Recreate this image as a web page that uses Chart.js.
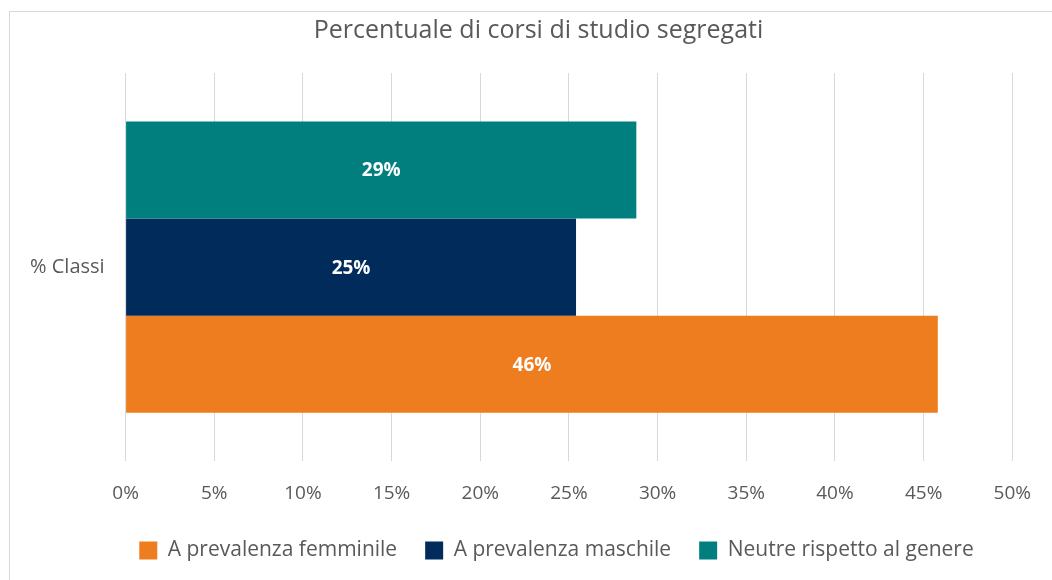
<!DOCTYPE html>
<html>
<head>
<meta charset="utf-8">
<script src="https://cdn.jsdelivr.net/npm/chart.js@4.4.1/dist/chart.umd.min.js"></script>
<style>
    html, body { margin: 0; padding: 0; background: #fff; }
    #wrap { position: relative; width: 1052px; height: 580px; overflow: hidden; }
    #frame { position: absolute; left: 9px; top: 11px; width: 1060px; height: 600px; border: 1px solid #d9d9d9; box-sizing: border-box; }
    canvas { position: absolute; left: 0; top: 0; }
</style>
</head>
<body>
<div id="wrap">
    <div id="frame"></div>
    <canvas id="chart" width="1052" height="580"></canvas>
</div>
<script>
const categories = ['% Classi'];
const neutre = [28.8];
const maschile = [25.4];
const femminile = [45.8];
const xTicks = [0, 5, 10, 15, 20, 25, 30, 35, 40, 45, 50];

const FONT = "'Open Sans', sans-serif";
const GREY = '#595959';

// value labels in the middle of each bar
const barLabels = {
    id: 'barLabels',
    afterDatasetsDraw(chart) {
        const ctx = chart.ctx;
        ctx.save();
        ctx.font = 'bold 19px ' + FONT;
        ctx.fillStyle = '#ffffff';
        ctx.textAlign = 'center';
        ctx.textBaseline = 'middle';
        chart.data.datasets.forEach((ds, i) => {
            chart.getDatasetMeta(i).data.forEach((bar, j) => {
                const mid = (bar.x + bar.base) / 2;
                ctx.fillText(Math.round(ds.data[j]) + '%', mid, bar.y + 1);
            });
        });
        ctx.restore();
    }
};

// nudge legend and title to sit like in the original
const boxShift = {
    id: 'boxShift',
    afterLayout(chart) {
        const lg = chart.legend;
        lg.left += 40; lg.right += 40;
        lg.top -= 14; lg.bottom -= 14;
        const t = chart.titleBlock;
        t.left += 22; t.right += 22;
    }
};

new Chart(document.getElementById('chart'), {
    type: 'bar',
    data: {
        labels: categories,
        datasets: [
            { label: 'Neutre rispetto al genere', data: neutre, backgroundColor: '#017F7F' },
            { label: 'A prevalenza maschile', data: maschile, backgroundColor: '#002B5B' },
            { label: 'A prevalenza femminile', data: femminile, backgroundColor: '#EE7D1F' }
        ]
    },
    options: {
        indexAxis: 'y',
        responsive: false,
        animation: false,
        layout: { padding: { left: 17, right: 36, top: 12, bottom: -5 } },
        datasets: { bar: { barPercentage: 1, categoryPercentage: 0.75 } },
        plugins: {
            title: {
                display: true,
                text: 'Percentuale di corsi di studio segregati',
                color: GREY,
                font: { family: FONT, size: 25, weight: 'normal' },
                padding: { top: 4, bottom: 27 }
            },
            legend: {
                position: 'bottom',
                reverse: true,
                labels: {
                    color: GREY,
                    font: { family: FONT, size: 21 },
                    boxWidth: 18,
                    boxHeight: 18,
                    padding: 28
                }
            },
            tooltip: { enabled: false }
        },
        scales: {
            x: {
                min: 0,
                max: 50,
                afterBuildTicks(axis) { axis.ticks = xTicks.map(v => ({ value: v })); },
                ticks: {
                    color: GREY,
                    font: { family: FONT, size: 19 },
                    padding: 21,
                    callback: v => v + '%'
                },
                grid: { color: '#d9d9d9', drawTicks: false },
                border: { display: false }
            },
            y: {
                ticks: { color: GREY, font: { family: FONT, size: 20 }, padding: 13 },
                grid: { display: false },
                border: { display: false }
            }
        }
    },
    plugins: [barLabels, boxShift]
});
</script>
</body>
</html>
